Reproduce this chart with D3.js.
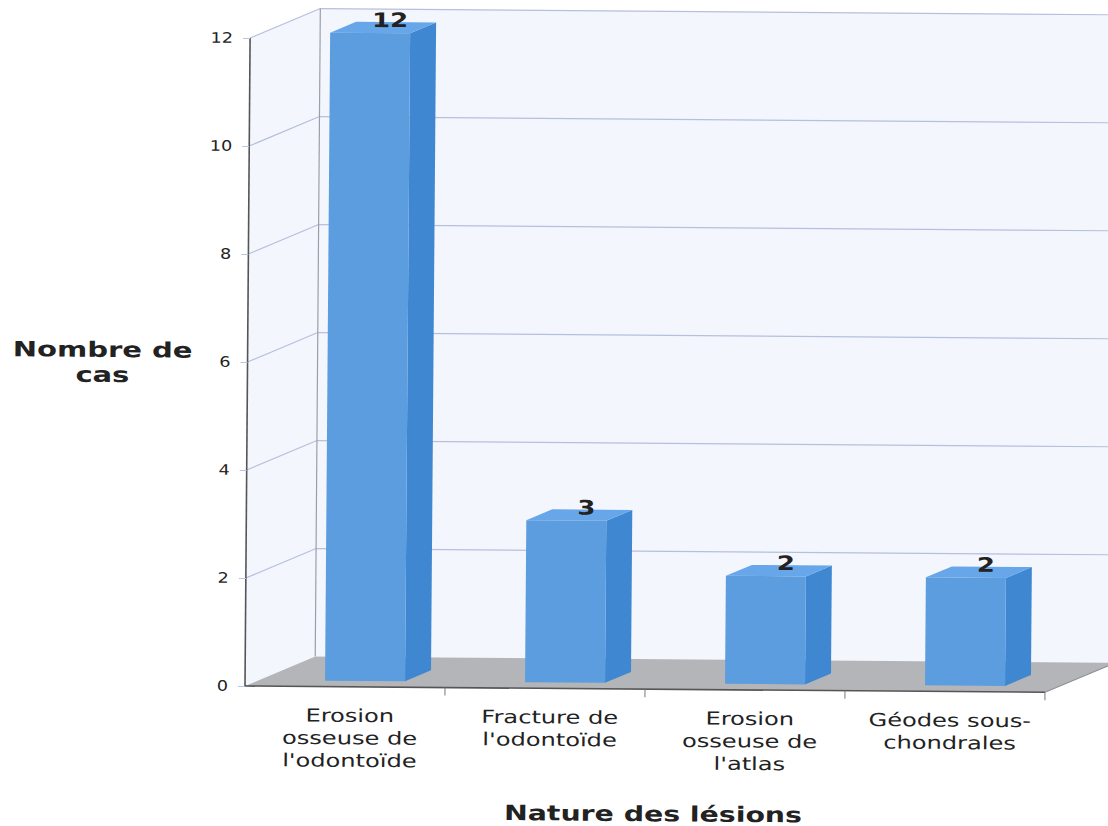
<!DOCTYPE html>
<html>
<head>
<meta charset="utf-8">
<script src="https://cdn.jsdelivr.net/npm/d3@7/dist/d3.min.js"></script>
<style>
  html, body { margin: 0; padding: 0; background: #ffffff; }
  svg { display: block; }
</style>
</head>
<body>
<svg id="chart" width="1108" height="826"></svg>
<script>
// Lesion categories (one label line per entry) and case counts
const categories = [
  ["Erosion", "osseuse de", "l'odontoïde"],
  ["Fracture de", "l'odontoïde"],
  ["Erosion", "osseuse de", "l'atlas"],
  ["Géodes sous-", "chondrales"]
];
const values = [12, 3, 2, 2];
const yTicks = [0, 2, 4, 6, 8, 10, 12];
const yTitle = ["Nombre de", "cas"];
const xTitle = "Nature des lésions";

const svg = d3.select("#chart");
const FONT = "DejaVu Sans, Verdana, sans-serif";

// Plot frame: front plane origin, size and 3-D depth offset
const x0 = 245, y0 = 686, plotW = 800, plotH = 648;
const depth = { dx: 70, dy: -30 };
const proj = (x, y, t) => [x + depth.dx * t, y + depth.dy * t];

const x = d3.scaleBand().domain(d3.range(categories.length)).range([x0, x0 + plotW]);
const y = d3.scaleLinear().domain([0, 12]).range([y0, y0 - plotH]);

const root = svg.append("g").attr("transform", `rotate(0.45, ${x0}, ${y0})`);

// Wide, horizontally stretched label text
function wideText(parent, tx, ty, str, size, sx, opts = {}) {
  return parent.append("text")
    .attr("transform", `translate(${tx},${ty}) scale(${sx},1)`)
    .attr("text-anchor", opts.anchor || "middle")
    .attr("font-family", FONT)
    .attr("font-weight", opts.bold ? "bold" : "normal")
    .attr("font-size", size)
    .attr("fill", opts.fill || "#222")
    .text(str);
}

const wallFill = "#f3f7fd", gridCol = "#b6bfdc";

// Back wall and left wall
const [bx0, by0] = proj(x0, y0, 1);
root.append("rect")
  .attr("x", bx0).attr("y", y(12) + depth.dy)
  .attr("width", plotW + 40).attr("height", plotH)
  .attr("fill", wallFill);
root.append("path")
  .attr("d", d3.line()([[x0, y(0)], [x0, y(12)], proj(x0, y(12), 1), proj(x0, y(0), 1)]) + "Z")
  .attr("fill", wallFill);

// Gridlines: across the back wall and diagonally on the left wall
yTicks.slice(1).forEach(v => {
  const [lx, ly] = proj(x0, y(v), 1);
  root.append("line")
    .attr("x1", lx).attr("y1", ly).attr("x2", x0 + plotW + 100).attr("y2", ly)
    .attr("stroke", gridCol).attr("stroke-width", 1.2);
  root.append("line")
    .attr("x1", x0).attr("y1", y(v)).attr("x2", lx).attr("y2", ly)
    .attr("stroke", gridCol).attr("stroke-width", 1.2);
});

// Back wall corner edge
root.append("line")
  .attr("x1", bx0).attr("y1", by0).attr("x2", bx0).attr("y2", y(12) + depth.dy)
  .attr("stroke", "#9a9ea6").attr("stroke-width", 1.2);

// Floor
root.append("path")
  .attr("d", d3.line()([[x0, y0], proj(x0, y0, 1), proj(x0 + plotW, y0, 1), [x0 + plotW, y0]]) + "Z")
  .attr("fill", "#b3b5b8");
root.append("line")
  .attr("x1", x0 + plotW).attr("y1", y0)
  .attr("x2", proj(x0 + plotW, y0, 1)[0]).attr("y2", proj(x0 + plotW, y0, 1)[1])
  .attr("stroke", "#8d9095").attr("stroke-width", 1);

// Bars: front face, side face and top face
const barOff = 66, barW = 80, tFront = 0.2, tBack = 0.57;
const faceCol = "#5c9de0", sideCol = "#3f87d1", topCol = "#66a6e9";

values.forEach((v, i) => {
  const xl = x(i) + barOff, xr = xl + barW;
  const yt = y(v), yb = y(0);
  const fA = proj(xl, yt, tFront), fB = proj(xr, yt, tFront);
  const fC = proj(xr, yb, tFront), fD = proj(xl, yb, tFront);
  const bA = proj(xl, yt, tBack), bB = proj(xr, yt, tBack), bC = proj(xr, yb, tBack);
  const g = root.append("g");
  g.append("path").attr("d", d3.line()([fB, bB, bC, fC]) + "Z").attr("fill", sideCol);
  g.append("path").attr("d", d3.line()([fA, bA, bB, fB]) + "Z").attr("fill", topCol);
  g.append("path").attr("d", d3.line()([fA, fB, fC, fD]) + "Z").attr("fill", faceCol);
  // value label sitting on the top face
  const cx = (bA[0] + bB[0]) / 2 - 6;
  wideText(g, cx, bA[1] + 5, v, 20, 1.3, { bold: true });
});

// Left value axis
root.append("line")
  .attr("x1", x0).attr("y1", y(0)).attr("x2", x0).attr("y2", y(12))
  .attr("stroke", "#555").attr("stroke-width", 1.6);
const yAxis = d3.axisLeft(y).tickValues(yTicks).tickSize(7).tickFormat("");
const ya = root.append("g").attr("transform", `translate(${x0},0)`).call(yAxis);
ya.select(".domain").remove();
ya.selectAll(".tick line").attr("stroke", "#b9c4e0");
yTicks.forEach(v => {
  wideText(root, x0 - 17, y(v) + 5, d3.format("d")(v), 14.5, 1.22, { anchor: "end" });
});

// Bottom category axis
root.append("line")
  .attr("x1", x0).attr("y1", y0).attr("x2", x0 + plotW).attr("y2", y0)
  .attr("stroke", "#555").attr("stroke-width", 1.6);
const xb = root.append("g");
x.domain().forEach(i => {
  const xe = x(i) + x.bandwidth();
  xb.append("line").attr("x1", xe).attr("x2", xe).attr("y1", y0).attr("y2", y0 + 8)
    .attr("stroke", "#777").attr("stroke-width", 1);
  categories[i].forEach((line, k) => {
    wideText(xb, x(i) + x.bandwidth() / 2 + 5, y0 + 35 + k * 22.5, line, 18, 1.34);
  });
});

// Axis titles
yTitle.forEach((line, k) => {
  wideText(root, 100, 358 + k * 25, line, 21, 1.38, { bold: true });
});
wideText(root, 654, 818, xTitle, 21, 1.35, { bold: true });
</script>
</body>
</html>
